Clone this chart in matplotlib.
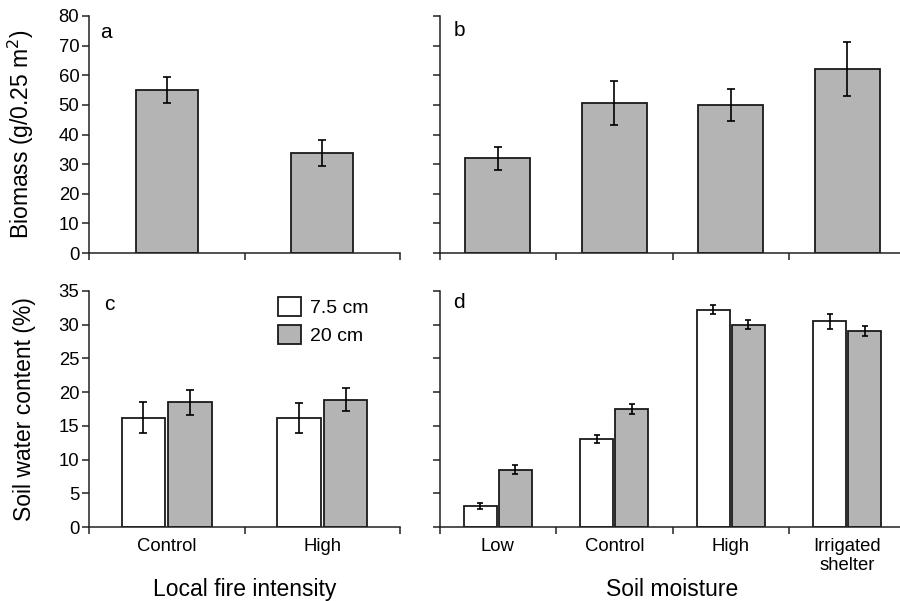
import matplotlib
matplotlib.use("Agg")
import matplotlib.pyplot as plt
import numpy as np
from matplotlib.patches import Patch

plt.rcParams['font.family'] = ['Liberation Sans', 'DejaVu Sans']

# ---- data ----
fire_cats = ["Control", "High"]
moist_cats = ["Low", "Control", "High", "Irrigated\nshelter"]

biomass_fire = [55.0, 33.8]
biomass_fire_err = [4.5, 4.5]
biomass_moist = [31.9, 50.7, 50.0, 62.1]
biomass_moist_err = [4.0, 7.5, 5.5, 9.1]

swc_fire_75 = [16.2, 16.2]
swc_fire_75_err = [2.3, 2.2]
swc_fire_20 = [18.5, 18.9]
swc_fire_20_err = [1.85, 1.7]

swc_moist_75 = [3.15, 13.1, 32.2, 30.5]
swc_moist_75_err = [0.4, 0.6, 0.7, 1.1]
swc_moist_20 = [8.5, 17.5, 30.0, 29.1]
swc_moist_20_err = [0.65, 0.7, 0.65, 0.75]

legend_labels = ["7.5 cm", "20 cm"]

GRAY = "#b4b4b4"
EDGE = "#1a1a1a"
TICK_FS = 13.3
LABEL_FS = 16.5
LETTER_FS = 15

fig = plt.figure(figsize=(9, 6.01), dpi=100)
W, H = 900, 601

def px_axes(l, r, top, bottom):
    return fig.add_axes([l / W, 1 - bottom / H, (r - l) / W, (bottom - top) / H])

ax_a = px_axes(89, 400, 16, 253)
ax_b = px_axes(439.5, 905.5, 16, 253)
ax_c = px_axes(89, 400, 290.7, 527.3)
ax_d = px_axes(439.5, 905.5, 290.7, 527.3)

ekw = dict(ecolor="black", elinewidth=1.2, capthick=1.2)

def style(ax, cats, ymax, ystep, ylabels=True):
    n = len(cats)
    ax.set_xlim(0, n)
    ax.set_ylim(0, ymax)
    for s in ["top", "right"]:
        ax.spines[s].set_visible(False)
    for s in ["left", "bottom"]:
        ax.spines[s].set_linewidth(1.1)
        ax.spines[s].set_color("#222222")
    ax.set_xticks(np.arange(0, n + 1))
    ax.set_xticklabels([])
    ax.set_xticks(np.arange(n) + 0.5, minor=True)
    ax.set_xticklabels(cats, minor=True, fontsize=TICK_FS, linespacing=1.15)
    ax.tick_params(axis="x", which="minor", length=0, pad=8)
    ax.tick_params(axis="x", which="major", length=5, width=1.1, direction="out", color="#222222")
    ax.set_yticks(np.arange(0, ymax + 0.1, ystep))
    ax.tick_params(axis="y", length=5, width=1.1, direction="out", color="#222222",
                   labelsize=TICK_FS, pad=2)
    if not ylabels:
        ax.set_yticklabels([])

# panel a
xa = np.arange(len(fire_cats)) + 0.5
ax_a.bar(xa, biomass_fire, width=0.4, color=GRAY, edgecolor=EDGE, linewidth=1.3,
         yerr=biomass_fire_err, capsize=3, error_kw=ekw, zorder=2)
style(ax_a, fire_cats, 80, 10)
ax_a.set_xticklabels([], minor=True)
ax_a.set_ylabel("Biomass (g/0.25 m$^2$)", fontsize=LABEL_FS)
ax_a.yaxis.set_label_coords(-0.17, 0.5)
ax_a.text(0.035, 0.93, "a", transform=ax_a.transAxes, fontsize=LETTER_FS, va="center", ha="left")

# panel b
xb = np.arange(len(moist_cats)) + 0.5
ax_b.bar(xb, biomass_moist, width=0.56, color=GRAY, edgecolor=EDGE, linewidth=1.3,
         yerr=biomass_moist_err, capsize=3, error_kw=ekw, zorder=2)
style(ax_b, moist_cats, 80, 10, ylabels=False)
ax_b.set_xticklabels([], minor=True)
ax_b.text(0.03, 0.94, "b", transform=ax_b.transAxes, fontsize=LETTER_FS, va="center", ha="left")

# panel c
off, bw = 0.15, 0.28
ax_c.bar(xa - off, swc_fire_75, width=bw, color="white", edgecolor=EDGE, linewidth=1.3,
         yerr=swc_fire_75_err, capsize=3, error_kw=ekw, zorder=2)
ax_c.bar(xa + off, swc_fire_20, width=bw, color=GRAY, edgecolor=EDGE, linewidth=1.3,
         yerr=swc_fire_20_err, capsize=3, error_kw=ekw, zorder=2)
style(ax_c, fire_cats, 35, 5)
ax_c.set_ylabel("Soil water content (%)", fontsize=LABEL_FS)
ax_c.yaxis.set_label_coords(-0.17, 0.5)
ax_c.set_xlabel("Local fire intensity", fontsize=LABEL_FS)
ax_c.xaxis.set_label_coords(0.5, -0.215)
ax_c.text(0.05, 0.94, "c", transform=ax_c.transAxes, fontsize=LETTER_FS, va="center", ha="left")
handles = [Patch(facecolor="white", edgecolor=EDGE, linewidth=1.3),
           Patch(facecolor=GRAY, edgecolor=EDGE, linewidth=1.3)]
ax_c.legend(handles, legend_labels, loc="upper left", bbox_to_anchor=(0.565, 1.03),
            frameon=False, fontsize=14, handlelength=1.15, handleheight=1.1,
            handletextpad=0.5, labelspacing=0.4, borderpad=0.2)

# panel d
ax_d.bar(xb - off, swc_moist_75, width=bw, color="white", edgecolor=EDGE, linewidth=1.3,
         yerr=swc_moist_75_err, capsize=2.3, error_kw=ekw, zorder=2)
ax_d.bar(xb + off, swc_moist_20, width=bw, color=GRAY, edgecolor=EDGE, linewidth=1.3,
         yerr=swc_moist_20_err, capsize=2.3, error_kw=ekw, zorder=2)
style(ax_d, moist_cats, 35, 5, ylabels=False)
ax_d.set_xlabel("Soil moisture", fontsize=LABEL_FS)
ax_d.xaxis.set_label_coords(0.5, -0.215)
ax_d.text(0.03, 0.95, "d", transform=ax_d.transAxes, fontsize=LETTER_FS, va="center", ha="left")

fig.savefig("out.png", dpi=100)
